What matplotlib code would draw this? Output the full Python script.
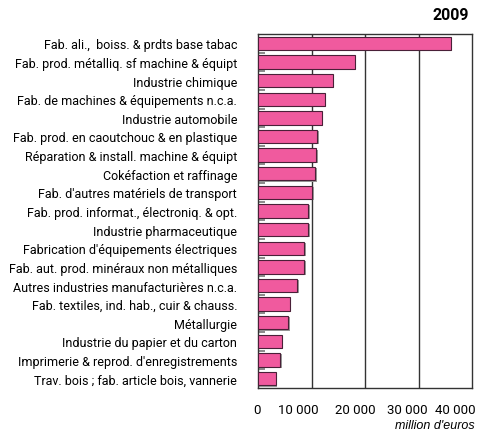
import matplotlib
matplotlib.use("Agg")
import matplotlib.pyplot as plt
import matplotlib.transforms as mtransforms
import numpy as np

plt.rcParams['font.family'] = ['Roboto', 'DejaVu Sans']

# branches, biggest first
branches = [
    "Fab. ali.,  boiss. & prdts base tabac",
    "Fab. prod. métalliq. sf machine & équipt",
    "Industrie chimique",
    "Fab. de machines & équipements n.c.a.",
    "Industrie automobile",
    "Fab. prod. en caoutchouc & en plastique",
    "Réparation & install. machine & équipt",
    "Cokéfaction et raffinage",
    "Fab. d'autres matériels de transport",
    "Fab. prod. informat., électroniq. & opt.",
    "Industrie pharmaceutique",
    "Fabrication d'équipements électriques",
    "Fab. aut. prod. minéraux non métalliques",
    "Autres industries manufacturières n.c.a.",
    "Fab. textiles, ind. hab., cuir & chauss.",
    "Métallurgie",
    "Industrie du papier et du carton",
    "Imprimerie & reprod. d'enregistrements",
    "Trav. bois ; fab. article bois, vannerie",
]
values_2009 = [36000, 18100, 14000, 12500, 11900, 11100, 10900, 10700, 10150,
               9400, 9400, 8650, 8650, 7350, 5950, 5650, 4450, 4150, 3300]
x_ticks = [0, 10000, 20000, 30000, 40000]
x_labels = ["0", "10 000", "20 000", "30 000", "40 000"]

fig = plt.figure(figsize=(4.82, 4.35), dpi=100)
ax = fig.add_axes([258 / 482, 1 - 389 / 435, 214 / 482, 354 / 435])

pos = np.arange(len(branches))
# gray drop shadow then the pink bar
ax.barh(pos + 0.06, np.array(values_2009) + 250, height=0.72, color='#9a9a9a', zorder=2)
ax.barh(pos, values_2009, height=0.72, color='#f05a9e', edgecolor='#4a2038',
        linewidth=0.8, zorder=3)

ax.set_xlim(0, 40000)
ax.set_ylim(len(branches) - 0.5, -0.5)
ax.set_xticks(x_ticks)
ax.set_xticklabels([])
ax.set_yticks(pos)
ax.set_yticklabels(branches, fontsize=9)
ax.set_yticks(pos[:-1] + 0.5, minor=True)

# x labels: in the original they sit a bit left of their gridlines
shifts = [-1, -13, -10, -11, -17]
base = mtransforms.blended_transform_factory(ax.transData, ax.transAxes)
for x, lab, dx in zip(x_ticks, x_labels, shifts):
    tr = base + mtransforms.ScaledTranslation(dx / 100, -22 / 100, fig.dpi_scale_trans)
    ax.text(x, 0, lab, transform=tr, fontsize=9.5, ha='center', va='center')

for x in x_ticks[1:-1]:
    ax.axvline(x, color='#333333', linewidth=1.0, zorder=1)

ax.tick_params(axis='y', which='major', length=0, pad=15)
ax.tick_params(axis='y', which='minor', length=5, direction='in', color='#777777', width=1.2)
ax.tick_params(axis='x', length=0)
for s in ax.spines.values():
    s.set_color('#333333')
    s.set_linewidth(1.0)

fig.text(469 / 482, 1 - 15 / 435, "2009", fontsize=11.5, fontweight='bold',
         ha='right', va='center')
fig.text(475 / 482, 1 - 426 / 435, "million d'euros", fontsize=9, style='italic',
         family='Liberation Sans', ha='right', va='center')

fig.savefig("out.png", dpi=100)
